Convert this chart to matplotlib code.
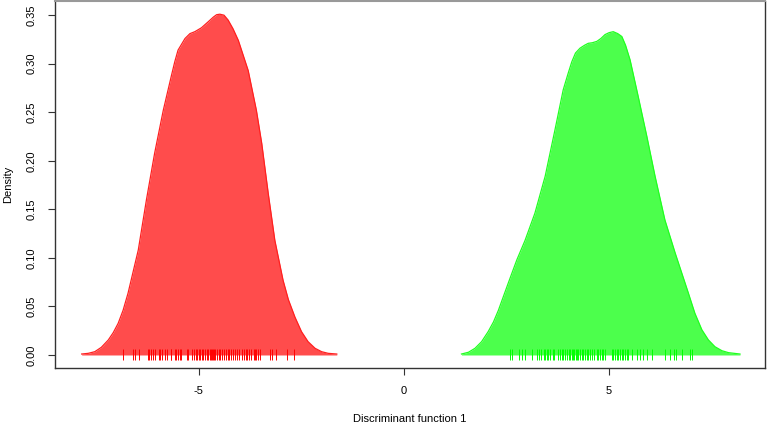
import numpy as np
import matplotlib
matplotlib.use("Agg")
import matplotlib.pyplot as plt

plt.rcParams['font.family'] = ['Liberation Sans', 'DejaVu Sans']

# density curve of group 1 (red)
red_x = [-7.85, -7.69, -7.53, -7.37, -7.20, -7.08, -6.96, -6.84, -6.72, -6.47,
         -6.27, -6.07, -5.86, -5.66, -5.58, -5.50, -5.33, -5.21, -5.09, -4.93,
         -4.85, -4.77, -4.64, -4.56, -4.48, -4.38, -4.28, -4.16, -4.03, -3.79,
         -3.59, -3.46, -3.30, -3.14, -2.94, -2.81, -2.65, -2.49, -2.33, -2.16,
         -2.00, -1.84, -1.63]
red_d = [0.001, 0.0017, 0.0034, 0.0079, 0.0155, 0.023, 0.0326, 0.046, 0.0635, 0.108,
         0.160, 0.208, 0.252, 0.288, 0.302, 0.314, 0.326, 0.331, 0.333, 0.337,
         0.340, 0.343, 0.348, 0.3505, 0.351, 0.350, 0.345, 0.336, 0.324, 0.293,
         0.252, 0.218, 0.166, 0.118, 0.077, 0.057, 0.039, 0.024, 0.0137, 0.0069,
         0.0034, 0.0017, 0.001]

# density curve of group 2 (green)
green_x = [1.41, 1.58, 1.74, 1.90, 2.06, 2.19, 2.31, 2.55, 2.76, 2.96,
           3.20, 3.45, 3.69, 3.89, 4.01, 4.10, 4.19, 4.30, 4.41, 4.50,
           4.60, 4.71, 4.81, 4.91, 5.01, 5.11, 5.22, 5.32, 5.41, 5.52,
           5.72, 5.93, 6.13, 6.37, 6.62, 6.94, 7.10, 7.27, 7.43, 7.59,
           7.76, 7.92, 8.20]
green_d = [0.001, 0.0028, 0.0069, 0.0137, 0.024, 0.034, 0.046, 0.074, 0.098, 0.118,
           0.146, 0.184, 0.232, 0.273, 0.290, 0.302, 0.311, 0.316, 0.319, 0.321,
           0.3216, 0.323, 0.326, 0.330, 0.332, 0.333, 0.331, 0.328, 0.319, 0.304,
           0.266, 0.225, 0.184, 0.139, 0.105, 0.064, 0.043, 0.026, 0.0155, 0.0085,
           0.0044, 0.0024, 0.001]

# individual scores (rug)
red_rug = [-6.85, -6.59, -6.54, -6.46, -6.23, -6.20, -6.16, -6.11, -6.06, -5.97,
           -5.93, -5.89, -5.82, -5.76, -5.68, -5.66, -5.58, -5.55, -5.50, -5.46,
           -5.43, -5.29, -5.25, -5.16, -5.11, -5.07, -5.04, -5.00, -4.96, -4.92,
           -4.88, -4.84, -4.80, -4.76, -4.72, -4.70, -4.67, -4.64, -4.62, -4.59,
           -4.55, -4.50, -4.47, -4.43, -4.39, -4.34, -4.29, -4.26, -4.21, -4.16,
           -4.11, -4.07, -4.02, -3.95, -3.90, -3.85, -3.81, -3.77, -3.71, -3.65,
           -3.62, -3.59, -3.55, -3.49, -3.26, -3.20, -3.11, -2.85, -2.67]
green_rug = [2.59, 2.63, 2.81, 2.88, 2.96, 3.12, 3.24, 3.30, 3.35, 3.41,
             3.45, 3.49, 3.53, 3.57, 3.63, 3.67, 3.77, 3.81, 3.85, 3.89,
             3.93, 3.98, 4.02, 4.06, 4.10, 4.14, 4.16, 4.20, 4.23, 4.26,
             4.30, 4.34, 4.38, 4.42, 4.46, 4.50, 4.54, 4.60, 4.65, 4.71,
             4.75, 4.79, 4.83, 4.87, 4.91, 5.07, 5.11, 5.15, 5.20, 5.23,
             5.28, 5.32, 5.36, 5.40, 5.44, 5.48, 5.56, 5.68, 5.76, 5.84,
             5.93, 6.05, 6.37, 6.50, 6.58, 6.63, 6.78, 6.97, 7.02]

x_ticks = [-5, 0, 5]
y_ticks = [0.00, 0.05, 0.10, 0.15, 0.20, 0.25, 0.30, 0.35]

fig = plt.figure(figsize=(7.67, 4.23), dpi=100)
ax = fig.add_axes([55 / 767, 1 - 368 / 423, 710 / 767, 367 / 423])

# filled densities
ax.fill_between(red_x, red_d, 0, color='#ff4c4c', lw=0)
ax.plot(red_x, red_d, color='#ff2020', lw=0.9, solid_joinstyle='round')
ax.fill_between(green_x, green_d, 0, color='#4cff4c', lw=0)
ax.plot(green_x, green_d, color='#20ff20', lw=0.9, solid_joinstyle='round')

# rug
ax.vlines(red_rug, -0.0051, 0.0062, color='#ff0000', lw=0.7)
ax.vlines(green_rug, -0.0051, 0.0062, color='#00ff00', lw=0.7)

ax.set_xlim(-8.50, 8.81)
ax.set_ylim(-0.0134, 0.3646)

ax.set_xticks(x_ticks)
ax.set_xticklabels([str(t) for t in x_ticks])
ax.set_yticks(y_ticks)
ax.set_yticklabels(['%.2f' % t for t in y_ticks], rotation=90, va='center')
ax.tick_params(axis='both', length=5, width=0.8, color='#333333', labelsize=8, pad=8)

for side in ['left', 'right', 'bottom']:
    ax.spines[side].set_color('#333333')
    ax.spines[side].set_linewidth(1.0)
ax.spines['top'].set_color('#999999')
ax.spines['top'].set_linewidth(1.5)

ax.set_xlabel('Discriminant function 1', fontsize=8, labelpad=13)
ax.set_ylabel('Density', fontsize=8, labelpad=10)

fig.savefig('out.png', dpi=100)
